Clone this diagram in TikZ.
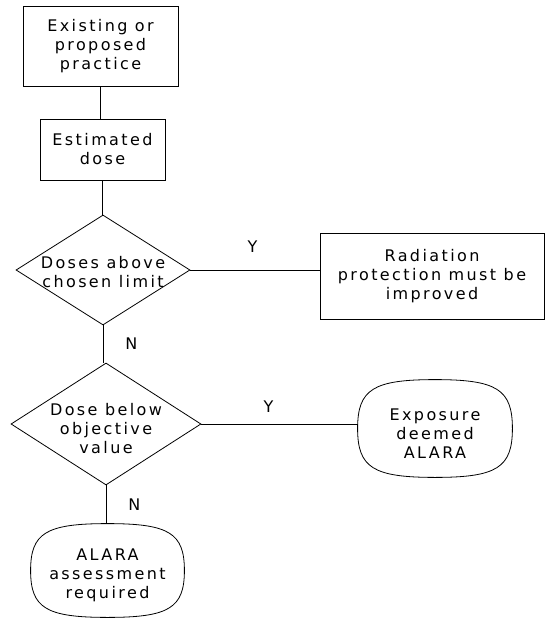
\documentclass[tikz,border=0pt]{standalone}
\usepackage{fontspec}
\setsansfont{DejaVu Sans}[LetterSpace=15]
\usetikzlibrary{shapes.geometric,calc}
\definecolor{fcink}{HTML}{000000}

\begin{document}
\begin{tikzpicture}[x=1pt,y=-1pt,line width=0.8pt,draw=fcink,
  txt/.style={font=\sffamily\fontsize{16}{19}\selectfont,align=center,inner sep=0pt},
  procbox/.style={draw,txt},
  decision/.style={draw,diamond,inner sep=0pt},
  terminal/.style={rectangle,inner sep=0pt}]
  \useasboundingbox (0,0) rectangle (545,621);
  \node[procbox,minimum width=155,minimum height=80] (practice) at (100.5,46) {Existing or\\proposed\\practice};
  \node[procbox,minimum width=125,minimum height=61] (dose) at (102.5,149.5) {Estimated\\dose};
  \node[decision,minimum width=174,minimum height=110,label={[txt,yshift=-2pt]center:Doses above\\chosen limit}] (limit) at (103,270) {};
  \node[procbox,minimum width=224,minimum height=86] (improve) at (432,276) {Radiation\\protection must be\\improved};
  \node[decision,minimum width=190,minimum height=122,label={[txt,yshift=-5pt]center:Dose below\\objective\\value}] (objective) at (106,424) {};
  \node[terminal,minimum width=154,minimum height=97,label={[txt,yshift=-5pt]center:Exposure\\deemed\\ALARA}] (alara) at (435,428.5) {};
  \node[terminal,minimum width=153,minimum height=93,label={[txt,yshift=-4.5pt]center:ALARA\\assessment\\required}] (assess) at (107.5,570.5) {};
  % squarish ovals round the two end nodes
  \foreach \n in {alara,assess}{
    \draw (\n.north) .. controls ($(\n.north)!0.8!(\n.north east)$) and ($(\n.east)!0.8!(\n.north east)$) .. (\n.east)
      .. controls ($(\n.east)!0.8!(\n.south east)$) and ($(\n.south)!0.8!(\n.south east)$) .. (\n.south)
      .. controls ($(\n.south)!0.8!(\n.south west)$) and ($(\n.west)!0.8!(\n.south west)$) .. (\n.west)
      .. controls ($(\n.west)!0.8!(\n.north west)$) and ($(\n.north)!0.8!(\n.north west)$) .. cycle;
  }
  % connectors
  \foreach \a/\b in {practice/dose,dose/limit}{\draw (\a.south) -- (\a.south |- \b.north);}
  \draw (limit.south) -- node[txt,right=22pt]{N} (limit.south |- objective.north);
  \draw (objective.south) -- node[txt,right=22pt]{N} (objective.south |- assess.north);
  \draw (limit.east) -- node[txt,above=17pt,pos=0.48]{Y} (limit.east -| improve.west);
  \draw (objective.east) -- node[txt,above=11pt,pos=0.43]{Y} (objective.east -| alara.west);
\end{tikzpicture}
\end{document}
